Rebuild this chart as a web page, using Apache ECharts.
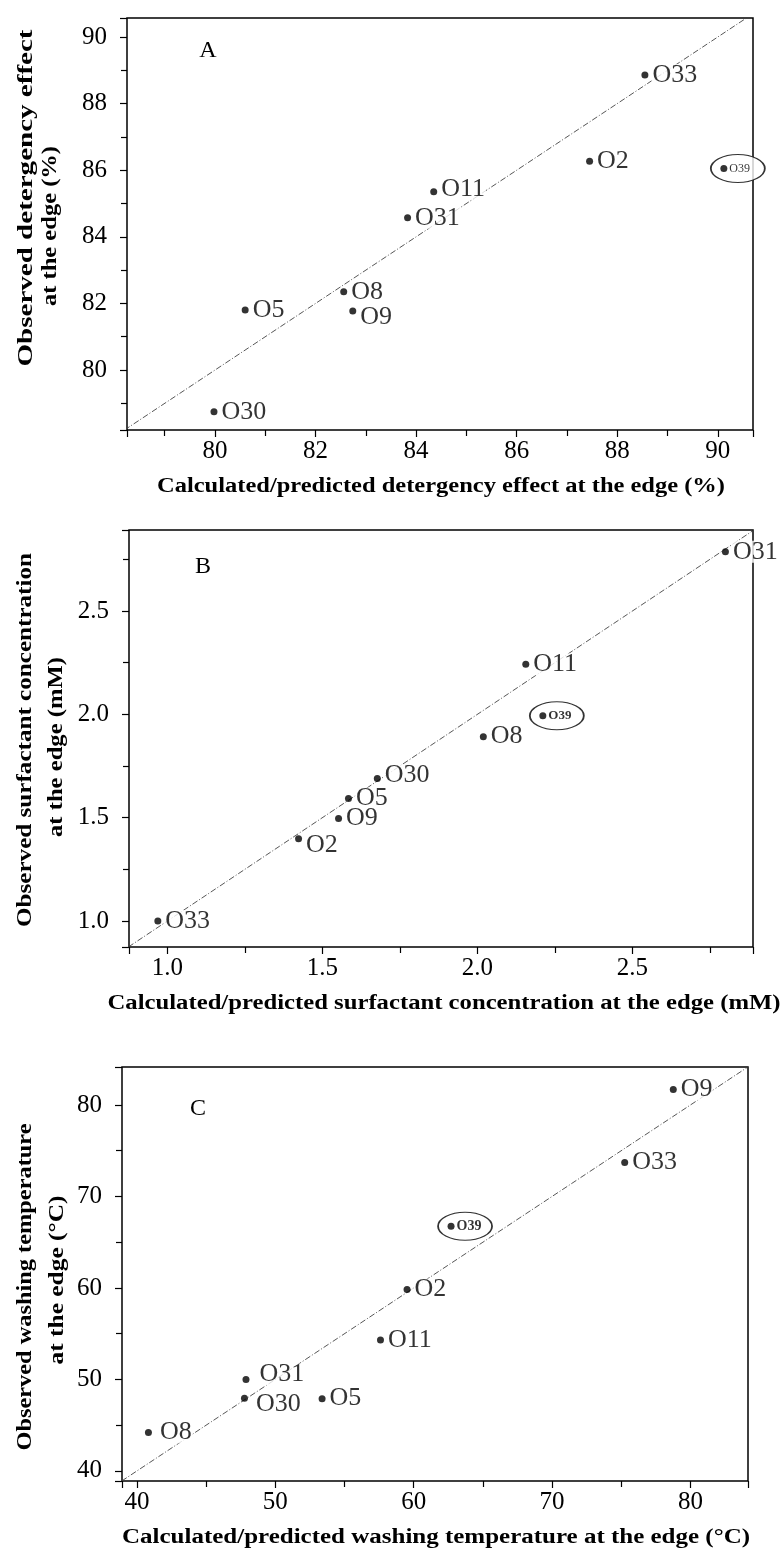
<!DOCTYPE html>
<html>
<head>
<meta charset="utf-8">
<script src="https://cdn.jsdelivr.net/npm/echarts@6/dist/echarts.min.js"></script>
<style>
  html, body { margin: 0; padding: 0; background: #fff; }
  #chart { width: 783px; height: 1556px; }
</style>
</head>
<body>
<div id="chart"></div>
<script>
// A: detergency effect at the edge (%)
var namesA = ['O33', 'O2', 'O39', 'O11', 'O31', 'O8', 'O9', 'O5', 'O30'];
var calcA  = [88.55, 87.45, 90.12, 84.35, 83.83, 82.56, 82.74, 80.60, 79.98];
var obsA   = [88.86, 86.27, 86.05, 85.35, 84.57, 82.35, 81.77, 81.80, 78.75];
var xRangeA = [78.25, 90.70];
var yRangeA = [78.20, 90.57];
var stepA = 2;

// B: surfactant concentration at the edge (mM)
var namesB = ['O31', 'O11', 'O39', 'O8', 'O30', 'O5', 'O9', 'O2', 'O33'];
var calcB  = [2.800, 2.156, 2.211, 2.019, 1.677, 1.584, 1.552, 1.423, 0.969];
var obsB   = [2.787, 2.242, 1.993, 1.892, 1.690, 1.593, 1.496, 1.398, 1.000];
var xRangeB = [0.876, 2.889];
var yRangeB = [0.874, 2.892];
var stepB = 0.5;

// C: washing temperature at the edge (°C)
var namesC = ['O9', 'O33', 'O39', 'O2', 'O11', 'O31', 'O30', 'O5', 'O8'];
var calcC  = [78.76, 75.25, 62.70, 59.52, 57.60, 47.88, 47.77, 53.38, 40.83];
var obsC   = [81.68, 73.70, 66.74, 59.83, 54.30, 49.99, 47.95, 47.90, 44.20];
var xRangeC = [38.92, 84.16];
var yRangeC = [38.90, 84.15];
var stepC = 10;

var serif = 'Liberation Serif';
var ink = '#000';

// small label nudges where the printed label sits off the dot's line
var nudge = {
  'A-O9': [0, 6], 'A-O11': [0, -3],
  'B-O2': [0, 6], 'B-O30': [0, -3],
  'C-O31': [6, -5], 'C-O30': [4, 6], 'C-O8': [4, 0]
};

var panels = [
  { key: 'A', names: namesA, x: calcA, y: obsA, xr: xRangeA, yr: yRangeA, step: stepA, digits: 0,
    grid: { left: 127, top: 18, width: 626, height: 412 }, bold39: 'normal', size39: 12 },
  { key: 'B', names: namesB, x: calcB, y: obsB, xr: xRangeB, yr: yRangeB, step: stepB, digits: 1,
    grid: { left: 129, top: 530, width: 624, height: 417 }, bold39: 'bold', size39: 13 },
  { key: 'C', names: namesC, x: calcC, y: obsC, xr: xRangeC, yr: yRangeC, step: stepC, digits: 0,
    grid: { left: 122, top: 1067, width: 626, height: 414 }, bold39: 'bold', size39: 14 }
];

function valueAxis(i, range, step, digits, isX) {
  return {
    type: 'value',
    gridIndex: i,
    min: range[0],
    max: range[1],
    splitNumber: Math.round((range[1] - range[0]) / step),
    axisLine: { show: false },
    axisTick: { show: true, length: 7, lineStyle: { color: ink, width: 1.2 } },
    minorTick: { show: true, splitNumber: 2, length: 6, lineStyle: { color: ink, width: 1.2 } },
    splitLine: { show: false },
    axisLabel: {
      fontFamily: serif, fontSize: 25, color: ink, margin: isX ? 9 : 20,
      formatter: function (v) {
        var k = v / step;
        if (Math.abs(k - Math.round(k)) > 1e-6) return '';
        return v.toFixed(digits);
      }
    }
  };
}

var grids = [], xAxes = [], yAxes = [], series = [];

panels.forEach(function (p, i) {
  grids.push({
    left: p.grid.left, top: p.grid.top, width: p.grid.width, height: p.grid.height,
    show: true, borderColor: ink, borderWidth: 1.5, backgroundColor: 'transparent',
    containLabel: false, outerBoundsMode: 'none'
  });
  xAxes.push(valueAxis(i, p.xr, p.step, p.digits, true));
  yAxes.push(valueAxis(i, p.yr, p.step, p.digits, false));

  var lo = Math.min(p.xr[0], p.yr[0]), hi = Math.max(p.xr[1], p.yr[1]);
  series.push({
    type: 'line', xAxisIndex: i, yAxisIndex: i, silent: true, z: 1,
    data: [[lo, lo], [hi, hi]], symbol: 'none', clip: true,
    lineStyle: { color: '#444', width: 0.9, type: [6, 2, 1, 2] }
  });

  var k39 = p.names.indexOf('O39');
  series.push({
    type: 'scatter', xAxisIndex: i, yAxisIndex: i, silent: true, z: 2, clip: false,
    data: [[p.x[k39], p.y[k39]]],
    symbol: 'circle', symbolSize: [54, 28], symbolOffset: [14, 0],
    itemStyle: { color: '#fff', borderColor: ink, borderWidth: 1.3 }
  });

  var pts = p.names.map(function (n, j) {
    var item = { name: n, value: [p.x[j], p.y[j]] };
    if (n === 'O39') {
      item.label = { fontSize: p.size39, fontWeight: p.bold39, backgroundColor: 'transparent', distance: 1 };
    } else if (nudge[p.key + '-' + n]) {
      item.label = { offset: nudge[p.key + '-' + n] };
    }
    return item;
  });
  series.push({
    type: 'scatter', xAxisIndex: i, yAxisIndex: i, z: 3, clip: false,
    data: pts, symbol: 'circle', symbolSize: 7,
    itemStyle: { color: ink },
    label: {
      show: true, position: 'right', distance: 3, formatter: '{b}',
      fontFamily: serif, fontSize: 26, color: ink,
      backgroundColor: '#fff', padding: [0, 1], lineHeight: 22
    }
  });
});

// titles, stretched to the printed length
var measure = document.createElement('canvas').getContext('2d');
function title(text, x, y, len, size, vertical) {
  var font = 'bold ' + size + 'px "' + serif + '"';
  measure.font = font;
  var w = measure.measureText(text).width;
  return {
    type: 'text', x: x, y: y, rotation: vertical ? Math.PI / 2 : 0, scaleX: len / w, silent: true,
    style: { text: text, font: font, fill: ink, textAlign: 'center', textVerticalAlign: 'middle',
             align: 'center', verticalAlign: 'middle' }
  };
}
function letter(text, x, y) {
  return {
    type: 'text', x: x, y: y, silent: true,
    style: { text: text, font: '24px "' + serif + '"', fill: ink, textAlign: 'center', textVerticalAlign: 'middle',
             align: 'center', verticalAlign: 'middle' }
  };
}

var graphics = [
  letter('A', 208, 51), letter('B', 203, 567), letter('C', 198, 1109),
  title('Calculated/predicted detergency effect at the edge (%)', 441, 487, 568, 20, false),
  title('Observed detergency effect', 26, 198, 337, 22, true),
  title('at the edge (%)', 50, 226, 160, 22, true),
  title('Calculated/predicted surfactant concentration at the edge (mM)', 444, 1004, 673, 20, false),
  title('Observed surfactant concentration', 25, 740, 374, 22, true),
  title('at the edge (mM)', 56, 747, 180, 22, true),
  title('Calculated/predicted washing temperature at the edge (\u00B0C)', 436, 1538, 628, 20, false),
  title('Observed washing temperature', 25, 1287, 327, 22, true),
  title('at the edge (\u00B0C)', 57, 1280, 169, 22, true)
];

var chart = echarts.init(document.getElementById('chart'), null, { renderer: 'canvas' });
chart.setOption({
  animation: false,
  backgroundColor: '#fff',
  grid: grids,
  xAxis: xAxes,
  yAxis: yAxes,
  series: series,
  graphic: { elements: graphics }
});
</script>
</body>
</html>
